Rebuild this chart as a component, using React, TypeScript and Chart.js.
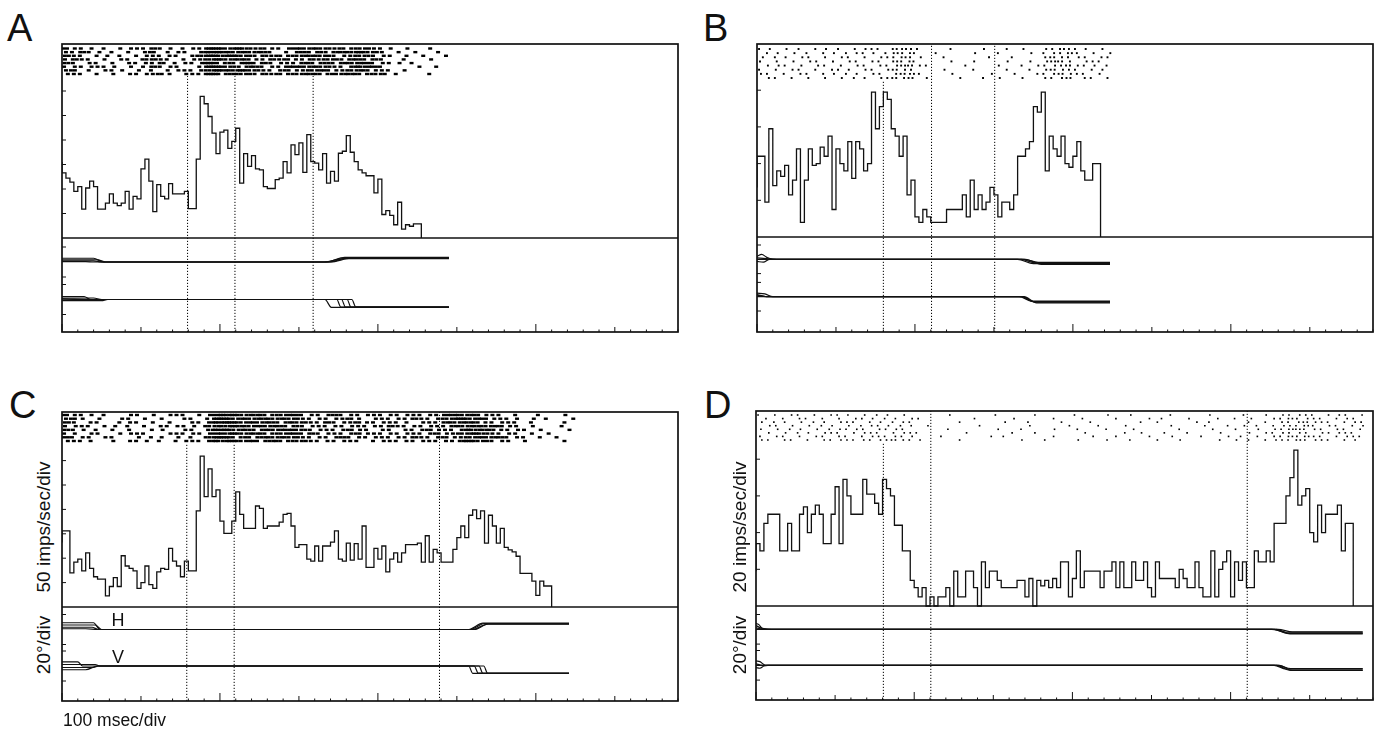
import React, { useEffect, useRef } from 'react';
import { Chart, registerables } from 'chart.js';

Chart.register(...registerables);

// ---------------- data ----------------
const BIN_MS = 5;          // histogram bin width
const CELL_MS = 10;        // raster cell width
const TIME_MAX = 780;      // ms spanned by each panel
const TIME_MINOR = 20;
const TIME_MID = 100;
const TIME_MAJOR = 200;

// firing rate (imps/sec) per 5 ms bin
const rateA = [
  155, 133, 122, 114, 95, 105, 59, 102, 116, 105,
  59, 59, 71, 90, 71, 66, 71, 95, 59, 85,
  80, 141, 161, 116, 54, 109, 85, 80, 111, 90,
  90, 90, 95, 60, 60, 161, 289, 274, 248, 214,
  172, 216, 220, 183, 197, 224, 112, 172, 146, 168,
  141, 139, 105, 101, 101, 119, 122, 156, 133, 190,
  170, 194, 134, 211, 156, 153, 139, 172, 112, 136,
  116, 173, 177, 209, 175, 156, 139, 133, 127, 127,
  92, 120, 48, 56, 46, 27, 73, 18, 27, 24,
  29,
];
const rateB = [
  27, 44, 44, 19, 59, 28, 36, 33, 39, 23,
  31, 48, 8, 31, 48, 39, 40, 49, 44, 55,
  15, 48, 40, 36, 52, 32, 52, 48, 36, 40,
  79, 59, 71, 79, 75, 59, 55, 44, 55, 23,
  31, 11, 8, 15, 11, 8, 8, 8, 8, 15,
  15, 15, 15, 23, 11, 31, 15, 23, 15, 19,
  27, 23, 11, 19, 19, 15, 23, 44, 44, 48,
  52, 71, 68, 79, 36, 55, 48, 44, 55, 40,
  38, 44, 52, 36, 31, 31, 40,
];
const rateC = [
  132, 156, 156, 70, 92, 98, 74, 111, 79, 62,
  57, 57, 23, 42, 60, 42, 105, 84, 79, 74,
  38, 50, 84, 46, 38, 72, 79, 77, 120, 94,
  84, 62, 94, 74, 74, 197, 309, 226, 283, 226,
  240, 176, 151, 151, 176, 236, 190, 161, 161, 161,
  207, 202, 161, 166, 166, 166, 174, 190, 192, 166,
  122, 128, 128, 98, 94, 125, 94, 125, 125, 133,
  156, 98, 94, 131, 96, 130, 98, 166, 81, 81,
  120, 98, 125, 72, 98, 111, 92, 111, 128, 128,
  128, 131, 92, 146, 92, 118, 111, 92, 92, 92,
  118, 142, 166, 142, 188, 199, 181, 197, 131, 188,
  166, 131, 161, 122, 117, 113, 104, 69, 69, 69,
  53, 24, 53, 43,
];
const rateD = [
  19, 34, 30, 45, 50, 50, 50, 30, 30, 45,
  30, 30, 50, 54, 40, 50, 55, 50, 34, 34,
  50, 65, 34, 69, 60, 50, 50, 50, 69, 61,
  61, 56, 50, 69, 64, 60, 44, 44, 30, 30,
  14, 10, 5, 10, 0, 5, 0, 5, 5, 10,
  0, 19, 5, 5, 19, 19, 10, 0, 24, 10,
  19, 19, 14, 10, 10, 10, 10, 14, 14, 5,
  15, 0, 14, 11, 14, 10, 15, 10, 24, 24,
  5, 15, 30, 10, 19, 19, 19, 19, 10, 19,
  19, 24, 10, 24, 10, 10, 24, 14, 14, 24,
  10, 5, 24, 15, 15, 15, 15, 10, 20, 15,
  10, 10, 24, 10, 5, 5, 30, 5, 20, 24,
  30, 5, 24, 14, 24, 10, 10, 30, 24, 24,
  30, 24, 45, 45, 45, 60, 70, 85, 55, 60,
  64, 40, 35, 55, 40, 50, 50, 50, 55, 30,
  45,
];

const rateTicksA = [50, 100, 150, 200, 250, 300];
const rateTicksB = [20, 40, 60, 80];
const rateTicksC = [50, 100, 150, 200, 250, 300];
const rateTicksD = [20, 40, 60, 80];
const eyeTicks = [-20, 20];

// event markers (ms) and whether the marker runs through the raster
const eventsA = [159, 219, 318];
const eventTopA = [false, false, false];
const eventsB = [160, 221, 301];
const eventTopB = [false, true, true];
const eventsC = [158, 218, 478];
const eventTopC = [false, false, true];
const eventsD = [161, 221, 621];
const eventTopD = [false, true, true];

// raster: spikes per 10 ms cell, one string per row
const rasterA = [
  '2111010111121101113322321211122222121221110100100',
  '1121101010120111013322222210112121222322101010010',
  '2110110101111110123323221212122222111221110101001',
  '1211010110221101112322221121211212212212100100100',
  '2101101011112011113212131211112212122221111010000',
  '1111111010121110013322122111222222111322100001010',
  '1201011101010111112322322111211222112221110100000',
  '1110101011112101113312221212122221222212201000100',
];
const rasterB = [
  '110101011010111102211000100010010100112111010',
  '011010101101111012120010000100100010111210101',
  '101101101011010111211001000001001000121111011',
  '101010110101101102120000100100010010122101110',
  '011101011010110111221100001000100101111211101',
  '101011010111011012110001000100010010121110110',
  '110101101101101101221000100001001001112111010',
  '011010101010110112120100010010100100111201101',
];
const rasterC = [
  '21110100110101110112332222122211112111111111111122222111010010010',
  '12101001101010011013322222222211111121011111211122322211110101001',
  '21011001110101001113332222212221121112111111011122222111110100010',
  '11110110101011111022232222221211111111111211111112222222110100010',
  '21101010100110011013322212222221111121101101112111132221111010001',
  '11011001111001111112232222122212111112111111111211223211110101000',
  '21110110010110101023321212222211111211111111211121122222111010100',
  '11110010111010111113232221221221111111011111111111232211101000010',
];
const rasterD = [
  '10101101011101011010000010000010000100001000100100001000010001001011111011101',
  '01010110101011101101100000010000100001000100010001010010001010100112111101110',
  '10110101101110110111000001000001001000100010000010100001010000101011121110111',
  '01101010110101111011010000001000001000010001001000001000100101010111121011011',
  '10101101011111011110000010000010010001001000100100000100010010010112211101101',
  '01010110111011110111100000100000100100000100001010010010001000101111110111110',
  '10110101101101111111000100000101000001000010010001001000100101010112121101111',
  '11011010111111111211100001000000010010001000100100100100001010101111211110110',
];

// eye position traces (ms, deg), one list per trial
const eyeHA = [
  [[0, 5], [40, 5], [52, 0], [335, 0], [358, 6.2], [490, 6.2]],
  [[0, 3], [45, 3], [55, 0], [338, 0], [362, 5.5], [490, 5.5]],
  [[0, 1.5], [40, 1.5], [50, 0], [332, 0], [356, 4.6], [490, 4.6]],
  [[0, 0.5], [30, 0.5], [40, 0], [340, 0], [366, 5], [490, 5]],
];
const eyeVA = [
  [[0, 4], [28, 4], [36, 0], [333, 0], [341, -10.4], [490, -10.4]],
  [[0, 2], [40, 2], [50, 0], [348, 0], [353, -10], [490, -10]],
  [[0, 0.5], [55, 0], [354, 0], [359, -10.2], [490, -10.2]],
  [[0, -1.5], [50, -1.5], [58, 0], [361, 0], [366, -10.4], [490, -10.4]],
  [[0, 1], [45, 0], [367, 0], [372, -10], [490, -10]],
];
const eyeHB = [
  [[0, 4], [6, 7], [12, 3], [20, 0], [335, 0], [352, -5], [447, -5]],
  [[0, -3], [8, -4], [16, 0], [330, 0], [350, -6], [447, -6]],
  [[0, 2], [12, 1], [25, 0], [338, 0], [356, -4.2], [447, -4.2]],
  [[0, 0], [340, 0], [360, -7], [447, -7]],
];
const eyeVB = [
  [[0, 5], [10, 4], [20, 0], [335, 0], [350, -7], [447, -7]],
  [[0, 2], [15, 0], [332, 0], [348, -6], [447, -6]],
  [[0, 0], [338, 0], [354, -8.5], [447, -8.5]],
  [[0, 3], [8, 1], [12, 0], [336, 0], [352, -7.5], [447, -7.5]],
];
const eyeHC = [
  [[0, 9], [40, 9], [48, 0], [517, 0], [535, 8], [642, 8]],
  [[0, 6], [42, 6], [50, 0], [520, 0], [538, 7], [642, 7]],
  [[0, 3], [38, 3], [46, 0], [515, 0], [533, 8.5], [642, 8.5]],
  [[0, 1], [30, 1], [45, 0], [522, 0], [540, 7.5], [642, 7.5]],
];
const eyeVC = [
  [[0, 5.5], [20, 5.5], [26, 0], [515, 0], [520, -9.7], [642, -9.7]],
  [[0, 2], [42, 2], [48, 0], [522, 0], [527, -9.5], [642, -9.5]],
  [[0, -2], [40, -2], [46, 0], [528, 0], [533, -10], [642, -10]],
  [[0, -5], [30, -5], [45, 0], [534, 0], [539, -9.8], [642, -9.8]],
];
const eyeHD = [
  [[0, 8], [4, 6], [8, 1], [20, 0], [652, 0], [670, -4], [767, -4]],
  [[0, 5], [6, 2], [15, 0], [655, 0], [672, -5.5], [767, -5.5]],
  [[0, 2], [10, 0], [658, 0], [675, -6.3], [767, -6.3]],
  [[0, 0], [660, 0], [678, -3.5], [767, -3.5]],
];
const eyeVD = [
  [[0, 6], [5, 5], [12, 0], [655, 0], [670, -5], [767, -5]],
  [[0, -3], [5, -4], [10, -1], [15, 0], [658, 0], [674, -6.5], [767, -6.5]],
  [[0, 2], [8, 0], [660, 0], [676, -4.5], [767, -4.5]],
  [[0, 0], [662, 0], [678, -7], [767, -7]],
];

// text
const panelLetters = ['A', 'B', 'C', 'D'];
const rateLabelC = '50 imps/sec/div';
const rateLabelD = '20 imps/sec/div';
const eyeLabel = '20°/div';
const timeLabel = '100 msec/div';
const channelLabels = ['H', 'V'];

// ---------------- layout / style ----------------
const INK = '#111111';
const PAD = 8;
const FONT = '"Liberation Sans", Arial, Helvetica, sans-serif';

const DASH = { style: 'line', radius: 2.0, width: 2.4 };   // dense rasters: short horizontal dashes
const DOT_B = { style: 'rect', radius: 1.35, width: 0 };
const DOT_D = { style: 'rect', radius: 1.15, width: 0 };

const PANELS = [
  {
    box: { left: 62, right: 678, top: 44, div: 238, bottom: 332 },
    ratePx: 0.49, hZero: 262, vZero: 299.5, degPx: 0.75,
    rastTop: 48.5, rastBottom: 74, spike: DASH,
    rates: rateA, rateTicks: rateTicksA, raster: rasterA, eyeH: eyeHA, eyeV: eyeVA,
    events: eventsA, eventTop: eventTopA,
  },
  {
    box: { left: 757, right: 1373, top: 44, div: 237, bottom: 332 },
    ratePx: 1.835, hZero: 259.3, vZero: 296.7, degPx: 0.715,
    rastTop: 49, rastBottom: 78, spike: DOT_B,
    rates: rateB, rateTicks: rateTicksB, raster: rasterB, eyeH: eyeHB, eyeV: eyeVB,
    events: eventsB, eventTop: eventTopB,
  },
  {
    box: { left: 62, right: 678, top: 412, div: 607, bottom: 701 },
    ratePx: 0.488, hZero: 629.5, vZero: 666, degPx: 0.75,
    rastTop: 415, rastBottom: 441, spike: DASH,
    rates: rateC, rateTicks: rateTicksC, raster: rasterC, eyeH: eyeHC, eyeV: eyeVC,
    events: eventsC, eventTop: eventTopC,
  },
  {
    box: { left: 756, right: 1373, top: 411, div: 606, bottom: 700 },
    ratePx: 1.835, hZero: 629.3, vZero: 665.3, degPx: 0.74,
    rastTop: 415, rastBottom: 440, spike: DOT_D,
    rates: rateD, rateTicks: rateTicksD, raster: rasterD, eyeH: eyeHD, eyeV: eyeVD,
    events: eventsD, eventTop: eventTopD,
  },
];

const LETTER_POS = [
  { x: 7, y: 9 },
  { x: 703, y: 9 },
  { x: 9, y: 386 },
  { x: 704, y: 386 },
];

// ---------------- helpers ----------------
function linRange(zeroPx: number, pxPerUnit: number, top: number, bottom: number) {
  return { min: (zeroPx - bottom) / pxPerUnit, max: (zeroPx - top) / pxPerUnit };
}

function histPoints(rates: number[]) {
  const pts = rates.map((r, i) => ({ x: i * BIN_MS, y: r }));
  const end = rates.length * BIN_MS;
  pts.push({ x: end, y: rates[rates.length - 1] });
  pts.push({ x: end, y: 0 });
  return pts;
}

function rasterPoints(rows: string[]) {
  const pts: { x: number; y: number }[] = [];
  rows.forEach((row, r) => {
    for (let c = 0; c < row.length; c++) {
      const n = Number(row[c]) || 0;
      for (let k = 0; k < n; k++) {
        const stagger = (((r * 7 + c * 3) % 5) - 2) * 0.12;
        pts.push({ x: c * CELL_MS + (CELL_MS * (k + 0.5 + stagger)) / n, y: r });
      }
    }
  });
  return pts;
}

function framePlugin(p: any) {
  return {
    id: 'frame',
    afterDatasetsDraw(chart: any) {
      const { ctx, chartArea: a, scales } = chart;
      const seg = (x1: number, y1: number, x2: number, y2: number) => {
        ctx.beginPath();
        ctx.moveTo(x1, y1);
        ctx.lineTo(x2, y2);
        ctx.stroke();
      };
      ctx.save();
      ctx.strokeStyle = INK;
      ctx.lineWidth = 1.7;
      ctx.strokeRect(a.left, a.top, a.right - a.left, a.bottom - a.top);
      const yd = scales.yR.getPixelForValue(0);
      seg(a.left, yd, a.right, yd);
      ctx.lineWidth = 1;
      p.rateTicks.forEach((v: number) => {
        const y = scales.yR.getPixelForValue(v);
        seg(a.left, y, a.left + 4, y);
      });
      ['yH', 'yV'].forEach((id) => {
        eyeTicks.forEach((v) => {
          const y = scales[id].getPixelForValue(v);
          seg(a.left, y, a.left + 4, y);
        });
      });
      for (let t = 0; t <= TIME_MAX; t += TIME_MINOR) {
        const x = scales.x.getPixelForValue(t);
        const len = t % TIME_MAJOR === 0 ? 8 : t % TIME_MID === 0 ? 5 : 2.5;
        seg(x, a.bottom, x, a.bottom - len);
      }
      ctx.restore();
    },
  };
}

function buildConfig(p: any) {
  const b = p.box;
  const rowsN = p.raster.length;
  const step = (p.rastBottom - p.rastTop) / (rowsN - 1);
  const rMin = -(p.rastTop - b.top) / step;
  const rMax = rMin + (b.bottom - b.top) / step;
  const markerTop = (b.bottom - (p.rastBottom + 2)) / (b.bottom - b.top);

  const datasets: any[] = [];
  datasets.push({
    type: 'line', data: histPoints(p.rates), yAxisID: 'yR', stepped: 'after',
    borderColor: INK, borderWidth: 1.3, pointRadius: 0, showLine: true, fill: false,
  });
  const eye = (trials: number[][][], axis: string) => {
    trials.forEach((tr) => {
      datasets.push({
        type: 'line', data: tr.map(([x, y]) => ({ x, y })), yAxisID: axis,
        borderColor: INK, borderWidth: 1.2, pointRadius: 0, showLine: true, fill: false,
        cubicInterpolationMode: 'monotone',
      });
    });
  };
  eye(p.eyeH, 'yH');
  eye(p.eyeV, 'yV');
  p.events.forEach((t: number, i: number) => {
    datasets.push({
      type: 'line', data: [{ x: t, y: 0 }, { x: t, y: p.eventTop[i] ? 1 : markerTop }], yAxisID: 'yF',
      borderColor: '#000', borderWidth: 1, borderDash: [1.2, 1.8], pointRadius: 0, showLine: true, fill: false,
    });
  });
  datasets.push({
    type: 'scatter', data: rasterPoints(p.raster), yAxisID: 'yRast', showLine: false,
    pointStyle: p.spike.style, pointRotation: 0, pointRadius: p.spike.radius, pointHoverRadius: p.spike.radius,
    pointBorderWidth: p.spike.width, pointBorderColor: '#000', pointBackgroundColor: '#000',
  });

  const hidden = { type: 'linear', display: false, bounds: 'data' };
  return {
    type: 'scatter',
    data: { datasets },
    options: {
      animation: false,
      responsive: false,
      maintainAspectRatio: false,
      devicePixelRatio: 1,
      events: [],
      layout: { padding: PAD },
      plugins: { legend: { display: false }, tooltip: { enabled: false }, title: { display: false } },
      scales: {
        x: { ...hidden, min: 0, max: TIME_MAX },
        y: { ...hidden },
        yR: { ...hidden, ...linRange(b.div, p.ratePx, b.top, b.bottom) },
        yH: { ...hidden, ...linRange(p.hZero, p.degPx, b.top, b.bottom) },
        yV: { ...hidden, ...linRange(p.vZero, p.degPx, b.top, b.bottom) },
        yRast: { ...hidden, reverse: true, min: rMin, max: rMax },
        yF: { ...hidden, min: 0, max: 1 },
      },
    },
    plugins: [framePlugin(p)],
  };
}

function Panel({ p }: { p: any }) {
  const ref = useRef<HTMLCanvasElement>(null);
  useEffect(() => {
    const chart = new Chart(ref.current as HTMLCanvasElement, buildConfig(p) as any);
    return () => chart.destroy();
  }, [p]);
  const w = p.box.right - p.box.left + 2 * PAD;
  const h = p.box.bottom - p.box.top + 2 * PAD;
  return (
    <canvas
      ref={ref}
      width={w}
      height={h}
      style={{ position: 'absolute', left: p.box.left - PAD, top: p.box.top - PAD, width: w, height: h }}
    />
  );
}

function Rotated({ text, cx, cy, size }: { text: string; cx: number; cy: number; size: number }) {
  return (
    <div
      style={{
        position: 'absolute', left: cx, top: cy, transform: 'translate(-50%, -50%) rotate(-90deg)',
        whiteSpace: 'nowrap', fontFamily: FONT, fontSize: size, lineHeight: `${size}px`, color: INK,
      }}
    >
      {text}
    </div>
  );
}

function Label({ text, x, y, size }: { text: string; x: number; y: number; size: number }) {
  return (
    <div
      style={{
        position: 'absolute', left: x, top: y, whiteSpace: 'nowrap', fontFamily: FONT,
        fontSize: size, lineHeight: `${size}px`, color: INK,
      }}
    >
      {text}
    </div>
  );
}

export default function App() {
  return (
    <div style={{ position: 'absolute', left: 0, top: 0, width: 1377, height: 729, background: '#fff', overflow: 'hidden' }}>
      {PANELS.map((p, i) => (
        <Panel key={i} p={p} />
      ))}
      {panelLetters.map((t, i) => (
        <Label key={t} text={t} x={LETTER_POS[i].x} y={LETTER_POS[i].y} size={38} />
      ))}
      <Rotated text={rateLabelC} cx={42.5} cy={527} size={19} />
      <Rotated text={eyeLabel} cx={42.5} cy={645} size={19} />
      <Rotated text={rateLabelD} cx={739} cy={527} size={19} />
      <Rotated text={eyeLabel} cx={739} cy={645} size={19} />
      <Label text={channelLabels[0]} x={111.5} y={610.5} size={18} />
      <Label text={channelLabels[1]} x={112} y={647.5} size={18} />
      <Label text={timeLabel} x={63} y={711.5} size={17.5} />
    </div>
  );
}
